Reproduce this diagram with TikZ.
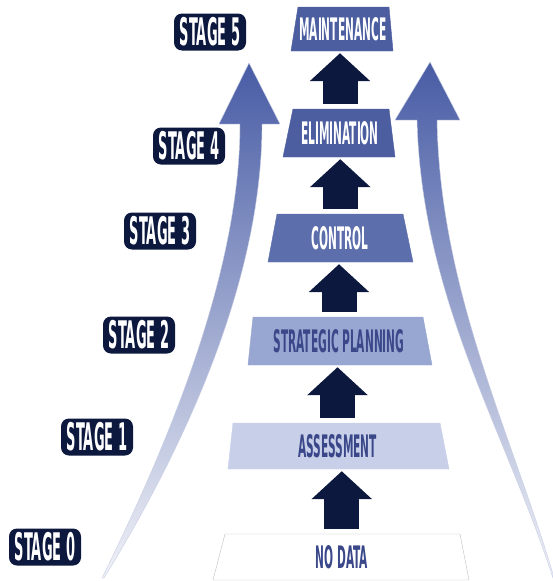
\documentclass[tikz,border=0pt]{standalone}
\usepackage{fontspec}
\usetikzlibrary{arrows.meta}
\newfontfamily\stagefont{DejaVu Sans Condensed}[FakeStretch=0.38]

\definecolor{navy}{RGB}{12,24,62}
\definecolor{curveblue}{RGB}{72,92,165}
\definecolor{boxdark}{RGB}{76,94,160}
\definecolor{boxmid}{RGB}{92,110,172}
\definecolor{boxlight}{RGB}{152,166,210}
\definecolor{boxpale}{RGB}{200,208,233}
\definecolor{textblue}{RGB}{58,72,138}

% name/top/bottom/top-left/top-right/bottom-left/bottom-right/fill/border/text colour/label
\def\levels{maint/7/51/298/389/291/393/boxdark/boxdark/white/MAINTENANCE,
  elim/109/157/293/389/283/395/boxdark/boxdark/white/ELIMINATION,
  ctrl/214/262/277/403/268/413/boxmid/boxmid/white/CONTROL,
  plan/317/365/253/423/248/432/boxlight/boxlight/textblue/STRATEGIC PLANNING,
  assess/423/469/233/440/228/449/boxpale/boxpale/textblue/ASSESSMENT,
  nodata/534/580/225/460/213/469/white/black!25/textblue/NO DATA}

\begin{document}
\begin{tikzpicture}[x=1pt,y=-1pt,
    level/.style={inner sep=0pt,font=\stagefont\bfseries\fontsize{31}{31}\selectfont},
    stage/.style={fill=navy,text=white,rounded corners=8pt,minimum width=72pt,
      minimum height=37pt,inner sep=0pt,font=\stagefont\bfseries\fontsize{38}{38}\selectfont},
    blockup/.style={navy,line width=35pt,-{Triangle[length=28pt,width=59pt]},
      shorten <=5pt,shorten >=2pt},
    curve/.style={top color=curveblue,bottom color=curveblue!8,draw=curveblue!30,line width=0.4pt}]
  \useasboundingbox (0,0) rectangle (553,581);

  % the two rising arrows behind everything
  \path[curve] (102,578) .. controls (180,420) and (240,260) .. (240,124)
    -- (219,124) -- (249,63) -- (280,124) -- (262,124)
    .. controls (262,270) and (195,430) .. (104,578) -- cycle;
  \path[curve] (553,578) .. controls (505,430) and (422,300) .. (417,120)
    -- (395,120) -- (430,62) -- (460,120) -- (437,120)
    .. controls (440,290) and (510,430) .. (553,574) -- cycle;

  % the trapezoids, one per level
  \foreach \nm/\yt/\yb/\xtl/\xtr/\xbl/\xbr/\fc/\dc/\tc/\txt in \levels {%
    \path[fill=\fc,draw=\dc] (\xtl,\yt) -- (\xtr,\yt) -- (\xbr,\yb) -- (\xbl,\yb) -- cycle;
    \node[level,text=\tc,minimum height={\yb-\yt}] (\nm)
      at ({(\xtl+\xtr+\xbl+\xbr)/4},{(\yt+\yb)/2}) {\txt};
  }

  % block arrows between the levels
  \foreach \a/\b in {nodata/assess,assess/plan,plan/ctrl,ctrl/elim,elim/maint}
    \draw[blockup] (\a.north) -- (\a.north |- \b.south);

  % stage tags
  \foreach \n/\x/\y in {0/45/547,1/97/437,2/139/335,3/160/231,4/189/146,5/210/32}
    \node[stage] (s\n) at (\x,\y) {STAGE \n};
\end{tikzpicture}
\end{document}
